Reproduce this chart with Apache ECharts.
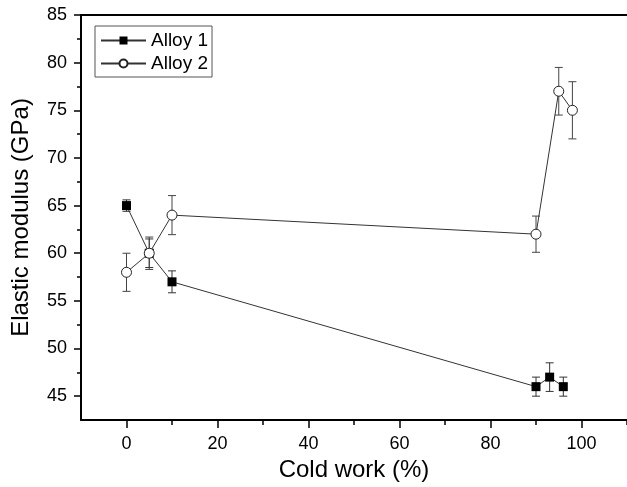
<!DOCTYPE html>
<html>
<head>
<meta charset="utf-8">
<script src="https://cdn.jsdelivr.net/npm/echarts@6/dist/echarts.min.js"></script>
<style>
  html, body { margin: 0; padding: 0; background: #fff; }
  #chart { width: 627px; height: 487px; }
</style>
</head>
<body>
<div id="chart"></div>
<script>
// alloy 1 (filled squares)
const alloy1X = [0, 5, 10, 90, 93, 96];
const alloy1Y = [65, 60, 57, 46, 47, 46];
const alloy1Err = [0.6, 1.5, 1.15, 1.0, 1.5, 1.0];

// alloy 2 (open circles)
const alloy2X = [0, 5, 10, 90, 95, 98];
const alloy2Y = [58, 60, 64, 62, 77, 75];
const alloy2Err = [2.0, 1.7, 2.05, 1.9, 2.5, 3.0];

// ticks
const xMajorTicks = [0, 20, 40, 60, 80, 100];
const xMinorTicks = [10, 30, 50, 70, 90, 110];
const yMajorTicks = [45, 50, 55, 60, 65, 70, 75, 80, 85];
const yMinorTicks = [47.5, 52.5, 57.5, 62.5, 67.5, 72.5, 77.5, 82.5];

const font = 'Liberation Sans, Arial, sans-serif';

function pairs(xs, ys) {
  return xs.map((x, i) => [x, ys[i]]);
}
function errData(xs, ys, es) {
  return xs.map((x, i) => [x, ys[i] - es[i], ys[i] + es[i]]);
}

// draws a vertical error bar with caps
function renderErr(color) {
  return function (params, api) {
    const lo = api.coord([api.value(0), api.value(1)]);
    const hi = api.coord([api.value(0), api.value(2)]);
    const w = 4;
    const style = { stroke: color, lineWidth: 1 };
    return {
      type: 'group',
      children: [
        { type: 'line', shape: { x1: lo[0], y1: lo[1], x2: hi[0], y2: hi[1] }, style },
        { type: 'line', shape: { x1: lo[0] - w, y1: lo[1], x2: lo[0] + w, y2: lo[1] }, style },
        { type: 'line', shape: { x1: hi[0] - w, y1: hi[1], x2: hi[0] + w, y2: hi[1] }, style },
      ],
    };
  };
}

const axisLine = { show: true, onZero: false, lineStyle: { color: '#000', width: 2 } };
const noLine = { show: false, onZero: false };

let chartDom = document.getElementById('chart');
let myChart = echarts.init(chartDom);
myChart.setOption({
  animation: false,
  grid: { left: 81, top: 15, right: -3, bottom: 67 },
  legend: {
    orient: 'vertical',
    left: 95,
    top: 26,
    data: ['Alloy 1', 'Alloy 2'],
    itemWidth: 45,
    itemHeight: 10,
    itemGap: 4,
    padding: [5, 4, 4, 5],
    borderColor: '#555',
    borderWidth: 1,
    textStyle: { fontFamily: font, fontSize: 19, color: '#000' },
  },
  xAxis: [
    {
      type: 'value',
      min: -10,
      max: 110,
      position: 'bottom',
      axisLine: axisLine,
      axisTick: { customValues: xMajorTicks, length: 8, lineStyle: { color: '#000', width: 1.5 } },
      axisLabel: { customValues: xMajorTicks, fontFamily: font, fontSize: 18, color: '#000', margin: 15 },
      splitLine: { show: false },
      name: 'Cold work (%)',
      nameLocation: 'middle',
      nameGap: 30,
      nameTextStyle: { fontFamily: font, fontSize: 24, color: '#000', verticalAlign: 'top' },
    },
    {
      type: 'value',
      min: -10,
      max: 110,
      position: 'bottom',
      axisLine: noLine,
      axisTick: { customValues: xMinorTicks, length: 5, lineStyle: { color: '#000', width: 1.5 } },
      axisLabel: { show: false },
      splitLine: { show: false },
    },
    {
      type: 'value',
      min: -10,
      max: 110,
      position: 'top',
      axisLine: axisLine,
      axisTick: { show: false },
      axisLabel: { show: false },
      splitLine: { show: false },
    },
  ],
  yAxis: [
    {
      type: 'value',
      min: 42.5,
      max: 85,
      position: 'left',
      axisLine: axisLine,
      axisTick: { customValues: yMajorTicks, length: 7, lineStyle: { color: '#000', width: 1.5 } },
      axisLabel: { customValues: yMajorTicks, fontFamily: font, fontSize: 18, color: '#000', margin: 14 },
      splitLine: { show: false },
      name: 'Elastic modulus (GPa)',
      nameLocation: 'middle',
      nameGap: 48,
      nameTextStyle: { fontFamily: font, fontSize: 24, color: '#000' },
    },
    {
      type: 'value',
      min: 42.5,
      max: 85,
      position: 'left',
      axisLine: noLine,
      axisTick: { customValues: yMinorTicks, length: 4, lineStyle: { color: '#000', width: 1.5 } },
      axisLabel: { show: false },
      splitLine: { show: false },
    },
  ],
  series: [
    {
      name: 'err1',
      type: 'custom',
      renderItem: renderErr('#333'),
      data: errData(alloy1X, alloy1Y, alloy1Err),
      z: 1,
      silent: true,
    },
    {
      name: 'Alloy 1',
      type: 'line',
      data: pairs(alloy1X, alloy1Y),
      symbol: 'rect',
      symbolSize: 9,
      itemStyle: { color: '#000' },
      lineStyle: { color: '#333', width: 1 },
      z: 2,
    },
    {
      name: 'err2',
      type: 'custom',
      renderItem: renderErr('#444'),
      data: errData(alloy2X, alloy2Y, alloy2Err),
      z: 3,
      silent: true,
    },
    {
      name: 'Alloy 2',
      type: 'line',
      data: pairs(alloy2X, alloy2Y),
      symbol: 'circle',
      symbolSize: 10,
      itemStyle: { color: '#fff', borderColor: '#222', borderWidth: 1 },
      lineStyle: { color: '#333', width: 1 },
      z: 4,
    },
  ],
});
</script>
</body>
</html>
